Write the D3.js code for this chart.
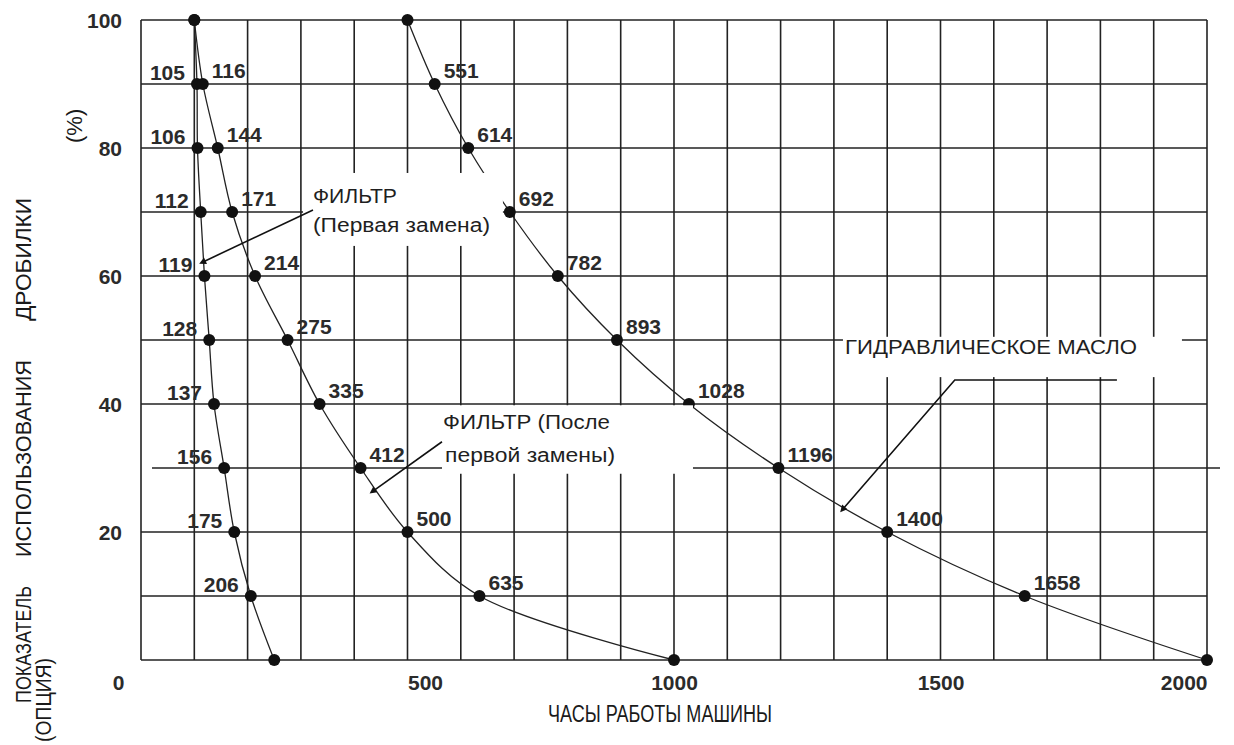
<!DOCTYPE html>
<html><head><meta charset="utf-8">
<script src="https://cdn.jsdelivr.net/npm/d3@7"></script>
<style>
html,body{margin:0;padding:0;background:#fff;}
svg{display:block;}
text{font-family:"Liberation Sans",Arial,sans-serif;}
</style></head>
<body>
<script>
// ---- data ----
const percentLevels = [100, 90, 80, 70, 60, 50, 40, 30, 20, 10, 0];
const filterFirstHours = [100, 105, 106, 112, 119, 128, 137, 156, 175, 206, 250];
const filterFirstLabels = ["", "105", "106", "112", "119", "128", "137", "156", "175", "206", ""];
const filterAfterHours = [100, 116, 144, 171, 214, 275, 335, 412, 500, 635, 1000];
const filterAfterLabels = ["", "116", "144", "171", "214", "275", "335", "412", "500", "635", ""];
const hydraulicHours = [500, 551, 614, 692, 782, 893, 1028, 1196, 1400, 1658, 2000];
const hydraulicLabels = ["", "551", "614", "692", "782", "893", "1028", "1196", "1400", "1658", ""];
const xTickValues = [0, 500, 1000, 1500, 2000];
const yTickValues = [20, 40, 60, 80, 100];
const xTitle = "ЧАСЫ РАБОТЫ МАШИНЫ";
const yTitleLines = ["ПОКАЗАТЕЛЬ", "ИСПОЛЬЗОВАНИЯ", "ДРОБИЛКИ"];
const yTitleSub = "(ОПЦИЯ)";
const yUnit = "(%)";
const noteFirst = ["ФИЛЬТР", "(Первая замена)"];
const noteAfter = ["ФИЛЬТР (После", "первой замены)"];
const noteOil = ["ГИДРАВЛИЧЕСКОЕ МАСЛО"];

// ---- layout ----
const W = 1234, H = 745;
const svg = d3.select("body").append("svg").attr("width", W).attr("height", H);
const x = d3.scaleLinear().domain([0, 2000]).range([141, 1207]);
const y = d3.scaleLinear().domain([0, 100]).range([660, 20]);
const ink = "#222";

// grid
const g = svg.append("g");
g.selectAll("line.v").data(d3.range(0, 2001, 100)).join("line")
  .attr("x1", d => x(d)).attr("x2", d => x(d)).attr("y1", y(0)).attr("y2", y(100))
  .attr("stroke", ink).attr("stroke-width", 1.6);
g.selectAll("line.h").data(d3.range(0, 101, 10)).join("line")
  .attr("x1", d => d === 30 ? x(0) + 11 : x(0))
  .attr("x2", d => d === 30 ? x(2000) + 13 : x(2000))
  .attr("y1", d => y(d)).attr("y2", d => y(d))
  .attr("stroke", ink).attr("stroke-width", 1.6);

// curves
const series = [
  {hours: filterFirstHours, labels: filterFirstLabels, side: "left"},
  {hours: filterAfterHours, labels: filterAfterLabels, side: "right"},
  {hours: hydraulicHours, labels: hydraulicLabels, side: "right"}
];
const line = d3.line().x(d => x(d[0])).y(d => y(d[1])).curve(d3.curveCatmullRom.alpha(0.5));
series.forEach(s => {
  const pts = s.hours.map((h, i) => [h, percentLevels[i], s.labels[i]]);
  svg.append("path").datum(pts).attr("d", line)
    .attr("fill", "none").attr("stroke", ink).attr("stroke-width", 1.3);
  svg.append("g").selectAll("circle").data(pts).join("circle")
    .attr("cx", d => x(d[0])).attr("cy", d => y(d[1])).attr("r", 6).attr("fill", "#111");
  svg.append("g").selectAll("text").data(pts.filter(d => d[2])).join("text")
    .attr("x", d => s.side === "left" ? x(d[0]) - 12 : x(d[0]) + 9)
    .attr("y", d => y(d[1]) - (s.side === "left" ? 4 : 6))
    .attr("text-anchor", s.side === "left" ? "end" : "start")
    .attr("font-size", 21).attr("font-weight", "bold").attr("fill", "#2b2b2b")
    .text(d => d[2]);
});

// axes tick labels
const xAnchors = ["end", "start", "middle", "middle", "end"];
const xAxis = d3.axisBottom(x).tickValues(xTickValues).tickFormat(d3.format("d")).tickSize(0).tickPadding(0);
const xa = svg.append("g").attr("transform", `translate(0,${y(0)})`).call(xAxis);
xa.select(".domain").remove();
xa.selectAll(".tick text")
  .attr("y", 30).attr("dy", 0)
  .attr("dx", (d, i) => i === 0 ? -17 : 0)
  .attr("text-anchor", (d, i) => xAnchors[i])
  .attr("font-size", 21).attr("font-weight", "bold").attr("fill", "#2b2b2b")
  .attr("font-family", "Liberation Sans, Arial, sans-serif");

const yAxis = d3.axisLeft(y).tickValues(yTickValues).tickSize(0).tickPadding(19);
const ya = svg.append("g").attr("transform", `translate(${x(0)},0)`).call(yAxis);
ya.select(".domain").remove();
ya.selectAll(".tick text")
  .attr("dy", "0.36em")
  .attr("font-size", 21).attr("font-weight", "bold").attr("fill", "#2b2b2b")
  .attr("font-family", "Liberation Sans, Arial, sans-serif");

// titles
svg.append("text").attr("x", 548).attr("y", 722).attr("font-size", 23)
  .attr("textLength", 224).attr("lengthAdjust", "spacingAndGlyphs").attr("fill", "#1a1a1a")
  .text(xTitle);
const ySpans = [[703, 117], [557, 197], [321, 123]];
yTitleLines.forEach((t, i) => {
  svg.append("text").attr("transform", `translate(31,${ySpans[i][0]}) rotate(-90)`)
    .attr("font-size", 22).attr("textLength", ySpans[i][1]).attr("lengthAdjust", "spacingAndGlyphs")
    .attr("fill", "#1a1a1a").text(t);
});
svg.append("text").attr("transform", `translate(51,742) rotate(-90)`)
  .attr("font-size", 22).attr("textLength", 84).attr("lengthAdjust", "spacingAndGlyphs")
  .attr("fill", "#1a1a1a").text(yTitleSub);
svg.append("text").attr("transform", `translate(82,143) rotate(-90)`)
  .attr("font-size", 22).attr("fill", "#1a1a1a").text(yUnit);

// annotations (positions in data units)
const notes = [
  {box: [304, 679, 76.1, 64.7], text: noteFirst, tx: [322.7, 322.7], ty: [71.4, 66.9], tl: [84, 177],
   path: [[322.7, 70.3], [116.3, 62.2]]},
  {box: [564.7, 1035.6, 39.8, 29.1], text: noteAfter, tx: [566.6, 570.4], ty: [36.1, 30.9], tl: [167, 170],
   path: [[564.7, 34.1], [435.3, 26.4]]},
  {box: [1317, 1953, 50.5, 44.2], text: noteOil, tx: [1320.8], ty: [47.8], tl: [292],
   path: [[1831, 43.75], [1526.8, 43.75], [1317, 23.6]]}
];
svg.append("defs").append("marker").attr("id", "ah")
  .attr("viewBox", "0 0 10 10").attr("refX", 4).attr("refY", 5)
  .attr("markerWidth", 10).attr("markerHeight", 7).attr("markerUnits", "userSpaceOnUse")
  .attr("orient", "auto")
  .append("path").attr("d", "M0,0 L10,5 L0,10 Z").attr("fill", "#111");
const pl = d3.line().x(d => x(d[0])).y(d => y(d[1]));
notes.forEach(n => {
  svg.append("rect").attr("x", x(n.box[0])).attr("y", y(n.box[2]))
    .attr("width", x(n.box[1]) - x(n.box[0])).attr("height", y(n.box[3]) - y(n.box[2]))
    .attr("fill", "#fff");
  n.text.forEach((t, i) => {
    svg.append("text").attr("x", x(n.tx[i])).attr("y", y(n.ty[i]))
      .attr("font-size", 20).attr("textLength", n.tl[i]).attr("lengthAdjust", "spacingAndGlyphs")
      .attr("fill", "#1f1f1f").text(t);
  });
  svg.append("path").attr("d", pl(n.path)).attr("fill", "none")
    .attr("stroke", "#111").attr("stroke-width", 1.6).attr("marker-end", "url(#ah)");
});
</script>
</body></html>
